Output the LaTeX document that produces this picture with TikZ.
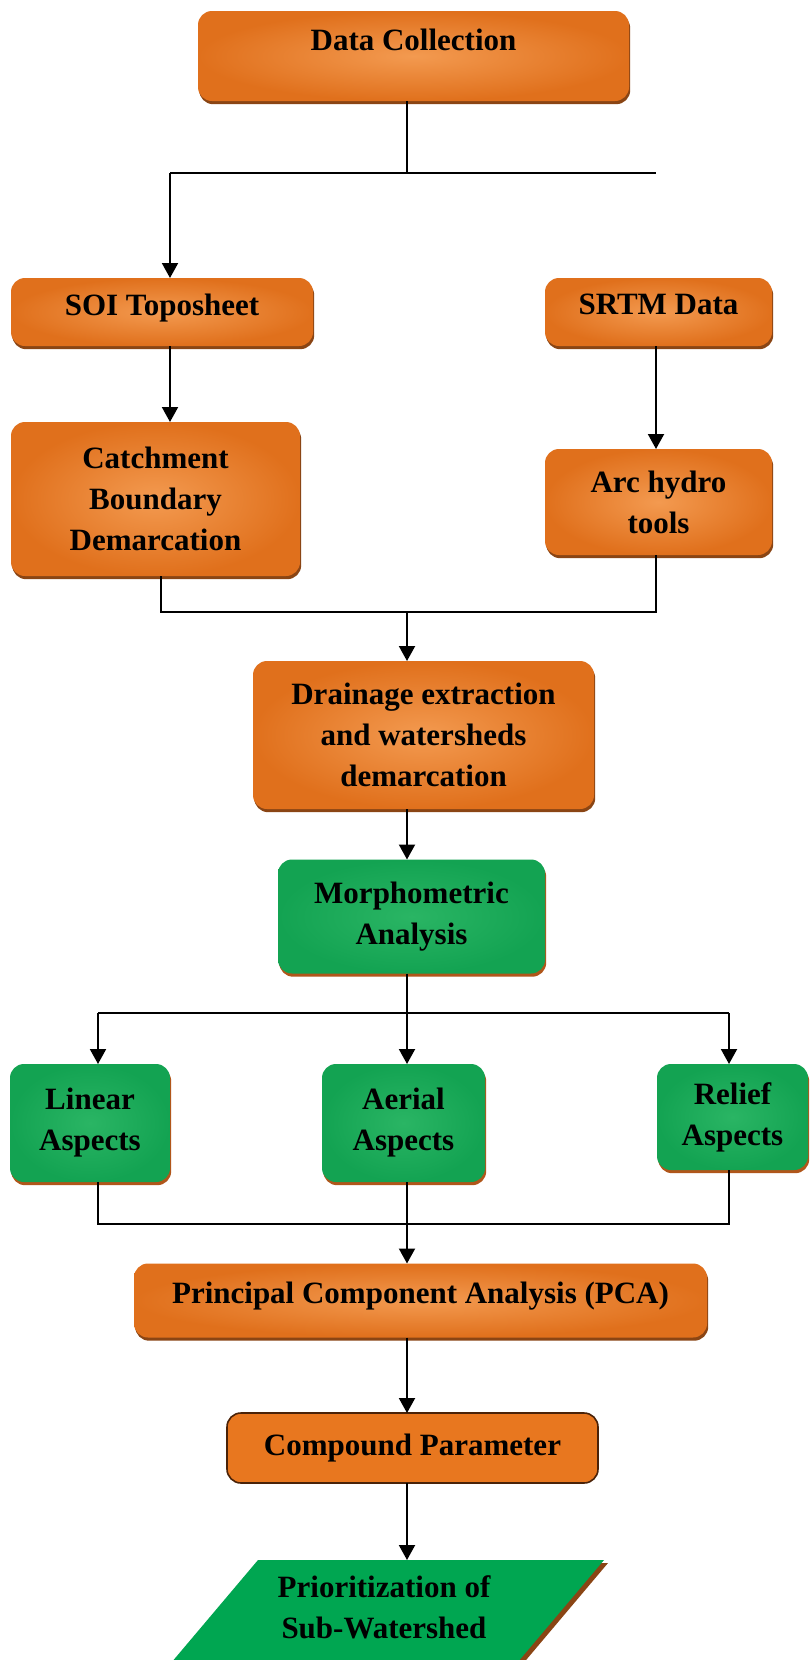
\documentclass[tikz,border=0pt]{standalone}
\usepackage{fontspec}
\setmainfont{Liberation Serif}
\usetikzlibrary{arrows.meta,shadows}
\definecolor{oin}{HTML}{F39A50}
\definecolor{oout}{HTML}{E0701C}
\definecolor{osh}{HTML}{8A4514}
\definecolor{gin}{HTML}{2AB564}
\definecolor{gout}{HTML}{13A352}
\definecolor{gsh}{HTML}{B0561A}
\definecolor{cfill}{HTML}{E8771F}
\definecolor{cedge}{HTML}{4A2208}
\definecolor{pgreen}{HTML}{00A651}
\definecolor{psh}{HTML}{8A4514}
\newcommand\bxfont{\bfseries\fontsize{15.5}{20.5}\selectfont}
\begin{document}
\begin{tikzpicture}[x=0.5pt,y=-0.5pt,
  base/.style={rounded corners=7pt, font=\bxfont, align=center, inner sep=0pt, outer sep=0pt, text=black},
  obox/.style={base, inner color=oin, outer color=oout,
    general shadow={fill=osh, shadow xshift=0.6pt, shadow yshift=-1.6pt}},
  gbox/.style={base, inner color=gin, outer color=gout,
    general shadow={fill=gsh, shadow xshift=0.6pt, shadow yshift=-1.6pt}},
  cbox/.style={base, fill=cfill, draw=cedge, line width=0.8pt},
  conn/.style={line width=1pt, black},
  arr/.style={conn, -{Triangle[width=8pt,length=7.5pt]}}
]
\fill[white] (0,0) rectangle (809,1660);
\clip (0,0) rectangle (809,1660);

% boxes
\node[obox, minimum width=215.5pt, minimum height=45pt, text depth=16pt] (dc) at (413.5,56) {Data Collection};
\node[obox, minimum width=151pt, minimum height=34pt, text depth=7.5pt] (soi) at (162,312) {SOI Toposheet};
\node[obox, minimum width=113.5pt, minimum height=34pt, text depth=7.5pt] (srtm) at (658.5,312) {SRTM Data};
\node[obox, minimum width=144.5pt, minimum height=77pt] (catch) at (155.5,499) {Catchment\\Boundary\\Demarcation};
\node[obox, minimum width=113.5pt, minimum height=53pt] (arc) at (658.5,502) {Arc hydro\\tools};
\node[obox, minimum width=170.5pt, minimum height=74pt] (drain) at (423.5,735) {Drainage extraction\\and watersheds\\demarcation};
\node[gbox, minimum width=133.5pt, minimum height=57pt] (morph) at (411.5,916.5) {Morphometric\\Analysis};
\node[gbox, minimum width=80pt, minimum height=59pt] (lin) at (90,1123) {Linear\\Aspects};
\node[gbox, minimum width=81.5pt, minimum height=59pt] (aer) at (403.5,1123) {Aerial\\Aspects};
\node[gbox, minimum width=75.5pt, minimum height=53pt] (rel) at (732.5,1117) {Relief\\Aspects};
\node[obox, minimum width=286.5pt, minimum height=37pt, text depth=7.5pt] (pca) at (420.5,1300.5) {Principal Component Analysis (PCA)};
\node[cbox, minimum width=185.5pt, minimum height=35pt] (comp) at (412.5,1448) {Compound Parameter};

% parallelogram
\fill[psh] (262,1563) -- (608,1563) -- (521,1666) -- (175,1666) -- cycle;
\fill[pgreen] (258,1560) -- (604,1560) -- (517,1663) -- (171,1663) -- cycle;
\node[base, font=\bxfont] (prio) at (384,1607) {Prioritization of\\Sub-Watershed};
\coordinate (priotop) at (407,1560);

% connectors
\coordinate (j1) at (407,173);
\coordinate (hl) at (170,173);
\coordinate (hr) at (656,173);
\draw[conn] (j1 |- dc.south) -- (j1);
\draw[conn] (hl) -- (hr);
\draw[arr] (hl) -- (hl |- soi.north);
\draw[arr] (hl |- soi.south) -- (hl |- catch.north);
\draw[arr] (hr |- srtm.south) -- (hr |- arc.north);

\coordinate (j2l) at (161,612);
\coordinate (j2r) at (656,612);
\coordinate (j2) at (407,612);
\draw[conn] (j2l |- catch.south) -- (j2l) -- (j2r) -- (j2r |- arc.south);
\draw[arr] (j2) -- (j2 |- drain.north);
\draw[arr] (j2 |- drain.south) -- (j2 |- morph.north);

\coordinate (j3) at (407,1013);
\coordinate (j3l) at (98,1013);
\coordinate (j3r) at (729,1013);
\draw[conn] (j3 |- morph.south) -- (j3);
\draw[conn] (j3l) -- (j3r);
\draw[arr] (j3l) -- (j3l |- lin.north);
\draw[arr] (j3) -- (j3 |- aer.north);
\draw[arr] (j3r) -- (j3r |- rel.north);

\coordinate (j4l) at (98,1224);
\coordinate (j4r) at (729,1224);
\draw[conn] (j4l |- lin.south) -- (j4l) -- (j4r) -- (j4r |- rel.south);
\draw[arr] (j3 |- aer.south) -- (j3 |- pca.north);
\draw[arr] (j3 |- pca.south) -- (j3 |- comp.north);
\draw[arr] (j3 |- comp.south) -- (priotop);
\end{tikzpicture}
\end{document}
